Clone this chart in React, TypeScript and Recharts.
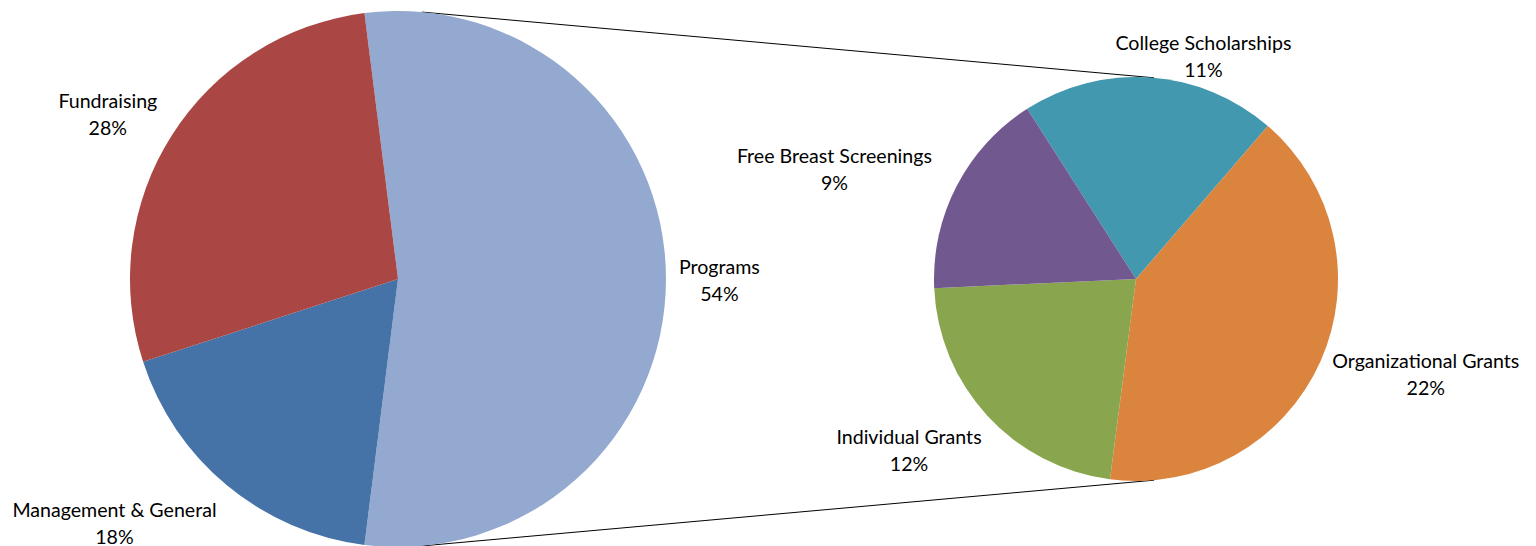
import React from 'react';
import { PieChart, Pie, Cell, Customized } from 'recharts';

// main pie (share of total spending)
const mainNames = ['Programs', 'Management & General', 'Fundraising'];
const mainValues = [54, 18, 28];
const mainColors = ['#93A9CF', '#4572A7', '#AA4643'];

// breakdown of the Programs slice, in % of total
const programNames = ['College Scholarships', 'Organizational Grants', 'Individual Grants', 'Free Breast Screenings'];
const programValues = [11, 22, 12, 9];
const programColors = ['#4198AF', '#DB843D', '#89A54E', '#71588F'];

const W = 1536;
const H = 546;
const FONT = 'Lato, "Noto Sans", sans-serif';
const FONT_SIZE = 19.6;
const LINE_H = 27;
const LABEL_GAP = 12;

// small hand tweaks so the labels land where Excel's "best fit" put them
const LABEL_NUDGE: Record<string, [number, number]> = {
  Programs: [1, 1],
  'Management & General': [-40, 7],
  Fundraising: [-12, -1],
  'College Scholarships': [46, 17],
  'Organizational Grants': [9, -3],
  'Individual Grants': [-16, 8],
  'Free Breast Screenings': [-25, 1],
};

const mainPie = { cx: 398, cy: 279, r: 268 };
const subPie = { cx: 1136, cy: 279, r: 202 };
const SUB_START = 122.6;

const mainData = mainNames.map((name, i) => ({ name, value: mainValues[i] }));
const programData = programNames.map((name, i) => ({ name, value: programValues[i] }));

const total = mainValues.reduce((a, b) => a + b, 0);
// split slice is centred on 3 o'clock, like Excel does it
const MAIN_START = (mainValues[0] / total) * 180;

const RAD = Math.PI / 180;

let ctx: CanvasRenderingContext2D | null = null;
const textWidth = (s: string) => {
  if (!ctx) ctx = document.createElement('canvas').getContext('2d');
  if (!ctx) return s.length * FONT_SIZE * 0.5;
  ctx.font = `${FONT_SIZE}px ${FONT}`;
  return ctx.measureText(s).width;
};

const renderLabel = (props: any) => {
  const { cx, cy, midAngle, outerRadius, name, value } = props;
  const c = Math.cos(midAngle * RAD);
  const s = Math.sin(midAngle * RAD);
  const pct = `${value}%`;
  const w = Math.max(textWidth(name), textWidth(pct));
  const h = LINE_H * 2;
  const ax = cx + (outerRadius + LABEL_GAP) * c;
  const ay = cy - (outerRadius + LABEL_GAP) * s;
  const [nx, ny] = LABEL_NUDGE[name] || [0, 0];
  const x = ax + (c * w) / 2 + nx;
  const y = ay - (s * h) / 2 + ny;
  return (
    <text x={x} y={y} textAnchor="middle" fill="#000" fontFamily={FONT} fontSize={FONT_SIZE}>
      <tspan x={x} y={y - LINE_H / 2} dominantBaseline="central">{name}</tspan>
      <tspan x={x} y={y + LINE_H / 2} dominantBaseline="central">{pct}</tspan>
    </text>
  );
};

// outer tangents between the two pies
const Connectors = () => {
  const d = subPie.cx - mainPie.cx;
  const a = Math.asin((mainPie.r - subPie.r) / d);
  const pts = [-1, 1].map((sgn) => {
    const dx = Math.sin(a);
    const dy = sgn * Math.cos(a);
    return {
      x1: mainPie.cx + mainPie.r * dx,
      y1: mainPie.cy + mainPie.r * dy,
      x2: subPie.cx + subPie.r * dx,
      y2: subPie.cy + subPie.r * dy,
    };
  });
  return (
    <g>
      {pts.map((p, i) => (
        <line key={i} {...p} stroke="#000" strokeWidth={1} />
      ))}
    </g>
  );
};

export default function App() {
  return (
    <div style={{ position: 'absolute', left: 0, top: 0, width: W, height: H, background: '#fff' }}>
      <PieChart width={W} height={H} margin={{ top: 0, right: 0, bottom: 0, left: 0 }}>
        <Pie
          data={mainData}
          dataKey="value"
          nameKey="name"
          cx={mainPie.cx}
          cy={mainPie.cy}
          outerRadius={mainPie.r}
          startAngle={MAIN_START}
          endAngle={MAIN_START - 360}
          stroke="none"
          label={renderLabel}
          labelLine={false}
          isAnimationActive={false}
        >
          {mainData.map((d, i) => (
            <Cell key={d.name} fill={mainColors[i]} />
          ))}
        </Pie>
        <Pie
          data={programData}
          dataKey="value"
          nameKey="name"
          cx={subPie.cx}
          cy={subPie.cy}
          outerRadius={subPie.r}
          startAngle={SUB_START}
          endAngle={SUB_START - 360}
          stroke="none"
          label={renderLabel}
          labelLine={false}
          isAnimationActive={false}
        >
          {programData.map((d, i) => (
            <Cell key={d.name} fill={programColors[i]} />
          ))}
        </Pie>
        <Customized component={Connectors} />
      </PieChart>
    </div>
  );
}
